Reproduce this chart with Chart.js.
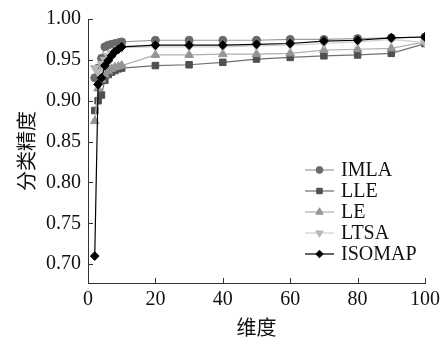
<!DOCTYPE html>
<html><head><meta charset="utf-8">
<script src="https://cdn.jsdelivr.net/npm/chart.js@4/dist/chart.umd.min.js"></script>
<style>html,body{margin:0;padding:0;background:#fff}#wrap{width:448px;height:340px}</style>
</head><body><div id="wrap"><canvas id="c" width="448" height="340"></canvas></div>
<script>
const dims   = [2,3,4,5,6,7,8,9,10,20,30,40,50,60,70,80,90,100];
const imla   = [0.928,0.940,0.952,0.966,0.968,0.969,0.970,0.971,0.972,0.974,0.974,0.974,0.974,0.975,0.975,0.976,0.977,0.978];
const lle    = [0.888,0.900,0.907,0.925,0.932,0.935,0.937,0.939,0.940,0.943,0.944,0.947,0.951,0.953,0.955,0.956,0.958,0.970];
const le     = [0.875,0.915,0.926,0.932,0.936,0.939,0.941,0.942,0.943,0.956,0.956,0.957,0.957,0.958,0.962,0.963,0.964,0.972];
const ltsa   = [0.940,0.935,0.945,0.950,0.955,0.958,0.961,0.963,0.965,0.966,0.966,0.966,0.967,0.968,0.970,0.972,0.975,0.971];
const isomap = [0.710,0.920,0.928,0.943,0.949,0.955,0.960,0.963,0.966,0.968,0.968,0.968,0.969,0.970,0.973,0.974,0.977,0.978];
const seriesNames = ['IMLA','LLE','LE','LTSA','ISOMAP'];
const yTicks = [0.70,0.75,0.80,0.85,0.90,0.95,1.00];
const xTicks = [0,20,40,60,80,100];
const xTitle = '维度';
const yTitle = '分类精度';

const styles = [
  {line:'#9a9a9a', mark:'#6a6a6a', style:'circle',   r:4,   rot:0},
  {line:'#707070', mark:'#505050', style:'rect',     r:4.6, rot:0},
  {line:'#b0b0b0', mark:'#959595', style:'triangle', r:5,   rot:0},
  {line:'#cfcfcf', mark:'#b8b8b8', style:'triangle', r:5,   rot:180},
  {line:'#000000', mark:'#000000', style:'rectRot',  r:4.4, rot:0}
];
const values = [imla, lle, le, ltsa, isomap];

const datasets = values.map((vals,i)=>({
  label: seriesNames[i],
  data: dims.map((d,j)=>({x:d, y:vals[j]})),
  borderColor: styles[i].line,
  borderWidth: 1.2,
  backgroundColor: styles[i].mark,
  pointBackgroundColor: styles[i].mark,
  pointBorderColor: styles[i].mark,
  pointBorderWidth: 1,
  pointStyle: styles[i].style,
  pointRadius: styles[i].r,
  pointRotation: styles[i].rot,
  tension: 0,
  fill: false,
  order: 5 - i
}));

const serif = "'Liberation Serif','Times New Roman',serif";
const cjk = "'Noto Sans CJK SC','Noto Sans CJK JP',sans-serif";

const decor = {
  id:'decor',
  afterDraw(chart){
    const ctx = chart.ctx, ca = chart.chartArea;
    const xs = chart.scales.x, ys = chart.scales.y;
    ctx.save();
    ctx.strokeStyle = '#333'; ctx.lineWidth = 1;
    ctx.beginPath();
    xTicks.forEach(v=>{const p=Math.round(xs.getPixelForValue(v))+0.5; ctx.moveTo(p,ca.bottom); ctx.lineTo(p,ca.bottom-5);});
    yTicks.forEach(v=>{const p=Math.round(ys.getPixelForValue(v))+0.5; ctx.moveTo(ca.left,p); ctx.lineTo(ca.left+5,p);});
    ctx.stroke();
    // legend
    const lx = ca.right - 120, ly = ca.top + 151, step = 21;
    chart.data.datasets.forEach((ds,i)=>{
      const y = ly + i*step;
      ctx.strokeStyle = ds.borderColor; ctx.lineWidth = 1.2;
      ctx.beginPath(); ctx.moveTo(lx, y); ctx.lineTo(lx+29, y); ctx.stroke();
      ctx.fillStyle = ds.pointBackgroundColor; ctx.strokeStyle = ds.pointBorderColor; ctx.lineWidth = 1;
      Chart.helpers.drawPoint(ctx, {pointStyle: ds.pointStyle, rotation: ds.pointRotation, radius: ds.pointRadius*0.85, borderWidth:1}, lx+14.5, y);
      ctx.fillStyle = '#111';
      ctx.font = '20px ' + serif;
      ctx.textBaseline = 'middle'; ctx.textAlign = 'left';
      ctx.fillText(ds.label, lx+36, y+1);
    });
    ctx.restore();
  }
};

new Chart(document.getElementById('c'), {
  type:'line',
  data:{datasets},
  options:{
    responsive:false,
    animation:false,
    layout:{padding:{top:12,right:23,left:0,bottom:0}},
    plugins:{legend:{display:false}, tooltip:{enabled:false}},
    scales:{
      x:{
        type:'linear', min:0, max:100,
        afterBuildTicks(s){ s.ticks = xTicks.map(v=>({value:v})); },
        afterFit(s){ s.height = 57; },
        ticks:{font:{family:serif,size:20}, color:'#111', padding:5, maxRotation:0, autoSkip:false},
        grid:{display:true, drawOnChartArea:false, drawTicks:false},
        border:{display:true, color:'#333', width:1},
        title:{display:true, text:xTitle, font:{family:cjk,size:20}, color:'#111', padding:{top:0,bottom:1}}
      },
      y:{
        type:'linear', min:0.677, max:1.0,
        afterBuildTicks(s){ s.ticks = yTicks.map(v=>({value:v})); },
        afterFit(s){ s.width = 88; },
        ticks:{font:{family:serif,size:20}, color:'#111', padding:7, autoSkip:false, callback:v=>Number(v).toFixed(2)},
        grid:{display:true, drawOnChartArea:false, drawTicks:false},
        border:{display:true, color:'#333', width:1},
        title:{display:true, text:yTitle, font:{family:cjk,size:20}, color:'#111', padding:{top:14,bottom:0}}
      }
    }
  },
  plugins:[decor]
});
</script></body></html>
